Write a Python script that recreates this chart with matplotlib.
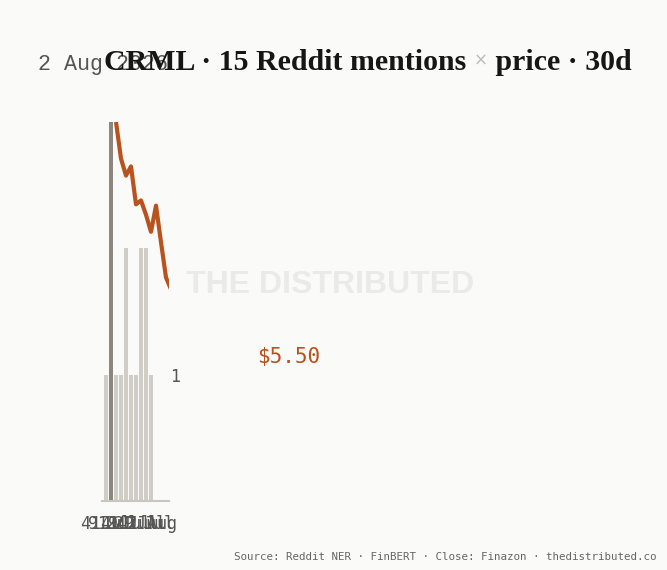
import numpy as np
from matplotlib import pyplot as plt

# data
days = list(range(30))
mentions = [1, 3, 1, 1, 2, 1, 1, 2, 2, 1] + [0] * 20
peak_day = 1
price = [np.nan, np.nan,
         7.30, 7.02, 6.89, 6.96, 6.67, 6.70, 6.59, 6.46, 6.66, 6.38, 6.11,
         6.02, 5.95, 6.10, 5.88, 5.80, 5.92, 5.74, 5.70, 5.81, 5.63, 5.58,
         5.66, 5.52, 5.47, 5.60, 5.55, 5.50]
tick_pos = [0, 1.5, 3.0, 4.5, 6.0, 7.6, 9.2]
tick_labels = ["4 Jul", "9 Jul", "14 Jul", "19 Jul", "24 Jul", "29 Jul", "2 Aug"]

BG = "#FAFAF8"
ORANGE = "#B9531E"
W, H = 667, 570

fig = plt.figure(figsize=(W / 100, H / 100), dpi=100, facecolor=BG)

def fx(px):
    return px / W

def fy(py):
    return 1 - py / H

ax = fig.add_axes([fx(102), fy(501), fx(169) - fx(102), fy(122) - fy(501)])
ax.set_facecolor("none")
colors = ["#8C877E" if d == peak_day else "#D0CDC7" for d in days]
ax.bar(days, mentions, width=0.7, color=colors, zorder=1)
ax.set_xlim(-0.8, 12.6)
ax.set_ylim(0, 3)
for s in ["left", "right", "top"]:
    ax.spines[s].set_visible(False)
ax.spines["bottom"].set_color("#C8C6C0")
ax.spines["bottom"].set_linewidth(1.5)
ax.set_xticks(tick_pos)
ax.set_xticklabels(tick_labels, family="DejaVu Sans Mono", fontsize=12, color="#555555")
ax.tick_params(axis="x", length=0, pad=10)

ax2 = ax.twinx()
ax2.set_ylim(4.40, 7.30)
ax2.plot(days, price, color=ORANGE, linewidth=3, solid_capstyle="butt", zorder=3)
ax2.axis("off")
ax2.annotate("$5.50", xy=(days[-1], price[-1]), xytext=(4.5, 0), textcoords="offset points",
             ha="left", va="center", color=ORANGE, fontsize=15,
             family="DejaVu Sans Mono", annotation_clip=False)

# mention count on the right side
ax.yaxis.tick_right()
ax.set_yticks([1])
ax.set_yticklabels(["1"], family="DejaVu Sans Mono", fontsize=12, color="#555555")
ax.tick_params(axis="y", length=0, pad=0.5, left=False, labelleft=False,
               right=False, labelright=True)

# header
fig.text(fx(38), fy(70), "2 Aug 2026", family="Liberation Mono", fontsize=15.6,
         color="#555555", ha="left", va="baseline")
t1 = fig.text(fx(104), fy(70), "CRML · 15 Reddit mentions ", family="Liberation Serif",
              fontsize=21.5, fontweight="bold", color="#161616", ha="left", va="baseline")
t2 = fig.text(0, 0, "×", family="DejaVu Sans", fontsize=12, color="#BBBBBB")
t3 = fig.text(0, 0, " price · 30d", family="Liberation Serif",
              fontsize=21.5, fontweight="bold", color="#161616")
fig.canvas.draw()
r = fig.canvas.get_renderer()
bb = t1.get_window_extent(r)
t2.set_position((bb.x1 / W, fy(66)))
bb2 = t2.get_window_extent(r)
t3.set_position((bb2.x1 / W, fy(70)))
t3.set_va("baseline")

# watermark with fade at the end
fig.text(fx(330), fy(285), "THE DISTRIBUTED", family="Liberation Sans", fontweight="bold",
         fontsize=23, color="#EAEAE8", ha="center", va="center")
fade = fig.add_axes([fx(420), fy(305), fx(480) - fx(420), fy(262) - fy(305)])
grad = np.zeros((2, 100, 4))
grad[..., :3] = np.array([250, 250, 248]) / 255
grad[..., 3] = np.linspace(0, 1, 100) ** 1.5
fade.imshow(grad, aspect="auto", extent=(0, 1, 0, 1))
fade.axis("off")

fig.text(fx(657), fy(557), "Source: Reddit NER · FinBERT · Close: Finazon · thedistributed.co",
         family="DejaVu Sans Mono", fontsize=7.8, color="#666666", ha="right", va="center")

fig.savefig("out.png", dpi=100, facecolor=BG)
